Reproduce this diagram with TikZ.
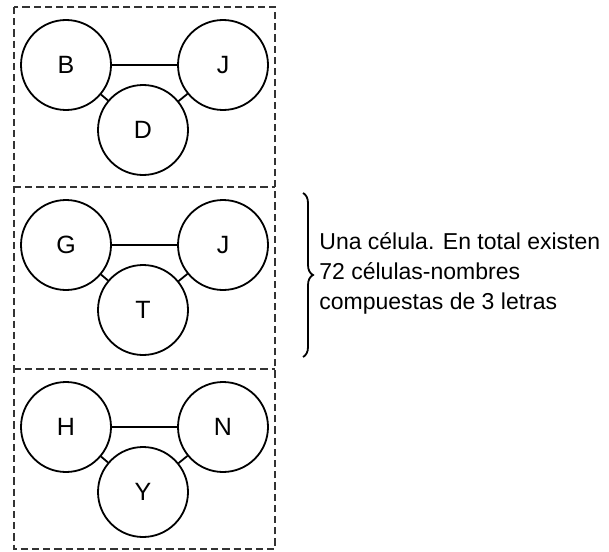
\documentclass[tikz,border=0pt]{standalone}
\usepackage{fontspec}
\setmainfont{Liberation Sans}
\usetikzlibrary{decorations.pathreplacing}

\tikzset{
    letra/.style={circle, draw, line width=0.9pt, minimum size=45pt, inner sep=0pt, font=\fontsize{12.5}{14}\selectfont},
    celda/.style={line width=1pt, dash pattern=on 3.6pt off 2pt, black!80},
    enlace/.style={line width=0.9pt}
}

\begin{document}
\begin{tikzpicture}[x=0.5pt, y=-0.5pt]
        \useasboundingbox (0,0) rectangle (609,551);

        % Desenha as celulas
        \draw[celda] (14,7) rectangle (275,549);
        \draw[celda] (14,187) -- (275,187);
        \draw[celda] (14,369) -- (275,369);

        \foreach \t/\a/\b/\c/\i in {7/B/J/D/1, 187/G/J/T/2, 369/H/N/Y/3}{
            \node[letra] (esq\i) at (66,\t+58) {\a};
            \node[letra] (dir\i) at (223,\t+58) {\b};
            \node[letra] (baixo\i) at (143,\t+123) {\c};
            \draw[enlace] (esq\i) -- (dir\i);
            \draw[enlace] (esq\i) -- (baixo\i);
            \draw[enlace] (dir\i) -- (baixo\i);
        }

        % Chave e texto
        \coordinate (chavecima) at (303,193);
        \coordinate (chavebaixo) at (303,357);
        \draw[line width=0.9pt, decorate, decoration={brace, amplitude=5pt}] (chavecima) -- (chavebaixo);
        \node[anchor=west, align=left, inner sep=0pt, font=\fontsize{11.5}{15}\selectfont] (texto) at (319,273)
            {Una célula. En total existen\\72 células-nombres\\compuestas de 3 letras};
    \end{tikzpicture}
\end{document}
